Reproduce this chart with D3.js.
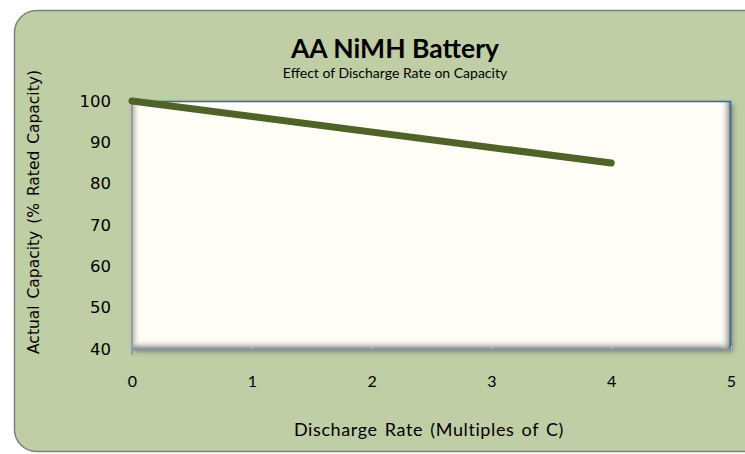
<!DOCTYPE html>
<html>
<head>
<meta charset="utf-8">
<script src="https://cdn.jsdelivr.net/npm/d3@7"></script>
<style>
  body { margin: 0; background: #ffffff; }
  svg { display: block; }
</style>
</head>
<body>
<div id="chart"></div>
<script>
// chart data
const rates = [0, 4];            // discharge rate (multiples of C)
const capacity = [100, 85];      // actual capacity (% rated)
const xTicks = [0, 1, 2, 3, 4, 5];
const yTicks = [40, 50, 60, 70, 80, 90, 100];

const width = 745, height = 454;
const plot = {left: 132, right: 731, top: 101, bottom: 349};

const svg = d3.select("#chart").append("svg")
  .attr("width", width)
  .attr("height", height);

const defs = svg.append("defs");

// gradients for the bevelled plot area
const grad = (id, x1, y1, x2, y2, stops) => {
  const g = defs.append("linearGradient").attr("id", id)
    .attr("x1", x1).attr("y1", y1).attr("x2", x2).attr("y2", y2);
  stops.forEach(s => g.append("stop").attr("offset", s[0]).attr("stop-color", s[1]).attr("stop-opacity", s[2]));
};
grad("bevL", 0, 0, 1, 0, [[0, "#a89a9c", 0.9], [1, "#fffdf6", 0]]);
grad("bevB", 0, 1, 0, 0, [[0, "#8f8588", 1], [1, "#fffdf6", 0]]);
grad("bevR", 1, 0, 0, 0, [[0, "#756c6f", 0.95], [1, "#fffdf6", 0]]);
grad("bevT", 0, 0, 0, 1, [[0, "#ffffff", 1], [1, "#ffffff", 0]]);

defs.append("filter").attr("id", "drop")
  .attr("x", "-5%").attr("y", "-5%").attr("width", "115%").attr("height", "120%")
  .append("feDropShadow").attr("dx", 2).attr("dy", 3).attr("stdDeviation", 2.5)
  .attr("flood-color", "#555").attr("flood-opacity", 0.6);

// outer panel
svg.append("rect")
  .attr("x", 14.5).attr("y", 10.5)
  .attr("width", 760).attr("height", 441)
  .attr("rx", 22).attr("ry", 22)
  .attr("fill", "#c0cea5")
  .attr("stroke", "#7f7f7f")
  .attr("stroke-width", 1.5);

// scales
const x = d3.scaleLinear().domain([0, 5]).range([plot.left, plot.right]);
const y = d3.scaleLinear().domain([40, 100]).range([plot.bottom, plot.top]);

const pw = plot.right - plot.left, ph = plot.bottom - plot.top;

// plot area with bevel
svg.append("rect")
  .attr("x", plot.left).attr("y", plot.top)
  .attr("width", pw).attr("height", ph)
  .attr("fill", "#fffdf6")
  .attr("filter", "url(#drop)");
svg.append("rect").attr("x", plot.left).attr("y", plot.top + 2)
  .attr("width", pw).attr("height", 14).attr("fill", "url(#bevT)");
svg.append("rect").attr("x", plot.left).attr("y", plot.top)
  .attr("width", 9).attr("height", ph).attr("fill", "url(#bevL)");
svg.append("rect").attr("x", plot.left).attr("y", plot.bottom - 10)
  .attr("width", pw).attr("height", 10).attr("fill", "url(#bevB)");
svg.append("rect").attr("x", plot.right - 11).attr("y", plot.top)
  .attr("width", 11).attr("height", ph).attr("fill", "url(#bevR)");

// blue frame on top and right
svg.append("path")
  .attr("d", `M${plot.left},${plot.top + 0.5}H${plot.right - 0.5}V${plot.bottom}`)
  .attr("fill", "none")
  .attr("stroke", "#2c6aa8")
  .attr("stroke-width", 1.6);

// axes
const xAxis = svg.append("g")
  .attr("transform", `translate(0,${plot.bottom})`)
  .call(d3.axisBottom(x).tickValues(xTicks).tickSize(-3).tickFormat(d3.format("d")));
xAxis.select(".domain").attr("stroke", "#8596a4").attr("stroke-width", 1.5);
xAxis.selectAll(".tick line").attr("stroke", "#c7c9cc");
xAxis.selectAll(".tick text")
  .attr("y", 27)
  .attr("fill", "#000")
  .style("font-family", "Lato, 'Open Sans', sans-serif")
  .style("font-size", "16px");

const yAxis = svg.append("g")
  .attr("transform", `translate(${plot.left},0)`)
  .call(d3.axisLeft(y).tickValues(yTicks).tickSize(0).tickPadding(21));
yAxis.select(".domain").attr("stroke", "#8596a4").attr("stroke-width", 1.5)
  .attr("d", `M0,${plot.top}V${plot.bottom + 6}`);
yAxis.selectAll(".tick text")
  .attr("fill", "#000")
  .style("font-family", "'DejaVu Sans', Verdana, sans-serif")
  .style("font-size", "16.5px");

// the data line
const pts = rates.map((r, i) => [r, capacity[i]]);
svg.append("path")
  .datum(pts)
  .attr("fill", "none")
  .attr("stroke", "#4f6228")
  .attr("stroke-width", 7)
  .attr("stroke-linecap", "round")
  .attr("d", d3.line().x(d => x(d[0])).y(d => y(d[1])));

// titles
svg.append("text")
  .attr("x", 395).attr("y", 58)
  .attr("text-anchor", "middle")
  .style("font-family", "Lato, 'Open Sans', sans-serif")
  .style("font-weight", "bold")
  .style("font-size", "26.5px")
  .text("AA NiMH Battery");

svg.append("text")
  .attr("x", 395).attr("y", 78)
  .attr("text-anchor", "middle")
  .style("font-family", "Lato, 'Open Sans', sans-serif")
  .style("font-size", "14px")
  .text("Effect of Discharge Rate on Capacity");

svg.append("text")
  .attr("transform", "translate(39,212) rotate(-90)")
  .attr("text-anchor", "middle")
  .style("font-family", "'DejaVu Sans', Verdana, sans-serif")
  .style("font-size", "15.5px")
  .style("word-spacing", "2px")
  .text("Actual Capacity  (% Rated  Capacity)");

svg.append("text")
  .attr("x", 429).attr("y", 436)
  .attr("text-anchor", "middle")
  .style("font-family", "Lato, 'Open Sans', sans-serif")
  .style("font-size", "18px")
  .style("letter-spacing", "0.6px")
  .style("word-spacing", "2px")
  .text("Discharge Rate  (Multiples of C)");
</script>
</body>
</html>
